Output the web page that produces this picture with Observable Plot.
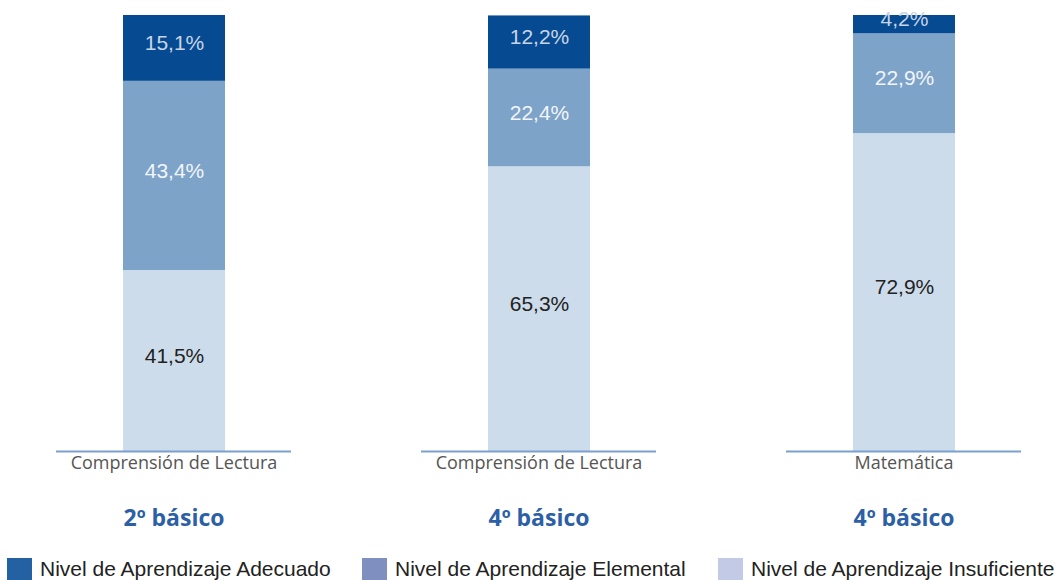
<!DOCTYPE html>
<html>
<head>
<meta charset="utf-8">
<script src="https://cdn.jsdelivr.net/npm/d3@7"></script>
<script src="https://cdn.jsdelivr.net/npm/@observablehq/plot@0.6"></script>
<style>
  body { margin: 0; background: #fff; width: 1055px; height: 580px; overflow: hidden; }
  #legend { display: flex; margin-top: 12px; font-family: "Liberation Sans Narrow", "Liberation Sans", sans-serif; font-size: 21px; color: #222; white-space: nowrap; }
  #legend .item { display: flex; align-items: center; flex-shrink: 0; }
  #legend .sw { width: 25px; height: 23px; margin-right: 8px; flex-shrink: 0; }
</style>
</head>
<body>
<div id="chart"></div>
<div id="legend"></div>
<script>
const subjects = ["Comprensión de Lectura", "Comprensión de Lectura", "Matemática"];
const grades = ["2º básico", "4º básico", "4º básico"];
const levels = ["Nivel de Aprendizaje Insuficiente", "Nivel de Aprendizaje Elemental", "Nivel de Aprendizaje Adecuado"];
const insuficiente = [41.5, 65.3, 72.9];
const elemental = [43.4, 22.4, 22.9];
const adecuado = [15.1, 12.2, 4.2];

const barColors = ["#cddcea", "#7ea3c9", "#064a92"];
const textColors = ["#222222", "#f2f5fa", "#c9d5e6"];
const legendOrder = ["Nivel de Aprendizaje Adecuado", "Nivel de Aprendizaje Elemental", "Nivel de Aprendizaje Insuficiente"];
const legendColors = ["#2461a3", "#7f8fc0", "#c3cae6"];

const series = [insuficiente, elemental, adecuado];
const data = [];
subjects.forEach((s, i) => {
  levels.forEach((lv, j) => {
    data.push({id: i, level: lv, value: series[j][i], subject: s});
  });
});

const fmt = v => v.toFixed(1).replace(".", ",") + "%";

const chart = Plot.plot({
  width: 1055,
  height: 545,
  marginTop: 15,
  marginBottom: 94,
  marginLeft: 55,
  marginRight: 34,
  style: {fontFamily: "'Liberation Sans', Arial, sans-serif", background: "#fff"},
  fx: {domain: [0, 1, 2], padding: 0.357, paddingOuter: 0, axis: null},
  x: {domain: ["bar"], padding: 0.395, axis: null},
  y: {domain: [0, 100], axis: null},
  color: {domain: levels, range: barColors},
  marks: [
    Plot.barY(data, Plot.stackY({fx: "id", x: () => "bar", y: "value", fill: "level"})),
    Plot.text(data, Plot.stackY({
      fx: "id", x: () => "bar", y: "value",
      text: d => fmt(d.value),
      fill: d => textColors[levels.indexOf(d.level)],
      fontSize: 21, dy: -5
    })),
    Plot.ruleY([0], {stroke: "#7ba0cf", strokeWidth: 2}),
    Plot.text(subjects.map((s, i) => ({id: i, s})), {
      fx: "id", text: "s", frameAnchor: "bottom", dy: 17,
      fill: "#555", fontSize: 18, fontFamily: "'Open Sans', sans-serif"
    }),
    Plot.axisFx({
      anchor: "bottom", tickSize: 0, tickPadding: 58,
      tickFormat: i => grades[i], fontSize: 23, fontWeight: "bold",
      fill: "#2c5fa6", fontFamily: "'Open Sans', sans-serif", label: null
    })
  ]
});
document.getElementById("chart").appendChild(chart);

const legend = document.getElementById("legend");
legendOrder.forEach((name, i) => {
  const item = document.createElement("div");
  item.className = "item";
  item.style.marginLeft = i === 0 ? "7px" : "0";
  if (i < 2) item.style.width = i === 0 ? "355px" : "356px";
  const sw = document.createElement("div");
  sw.className = "sw";
  sw.style.background = legendColors[i];
  const t = document.createElement("span");
  t.textContent = name;
  item.appendChild(sw);
  item.appendChild(t);
  legend.appendChild(item);
});
</script>
</body>
</html>
